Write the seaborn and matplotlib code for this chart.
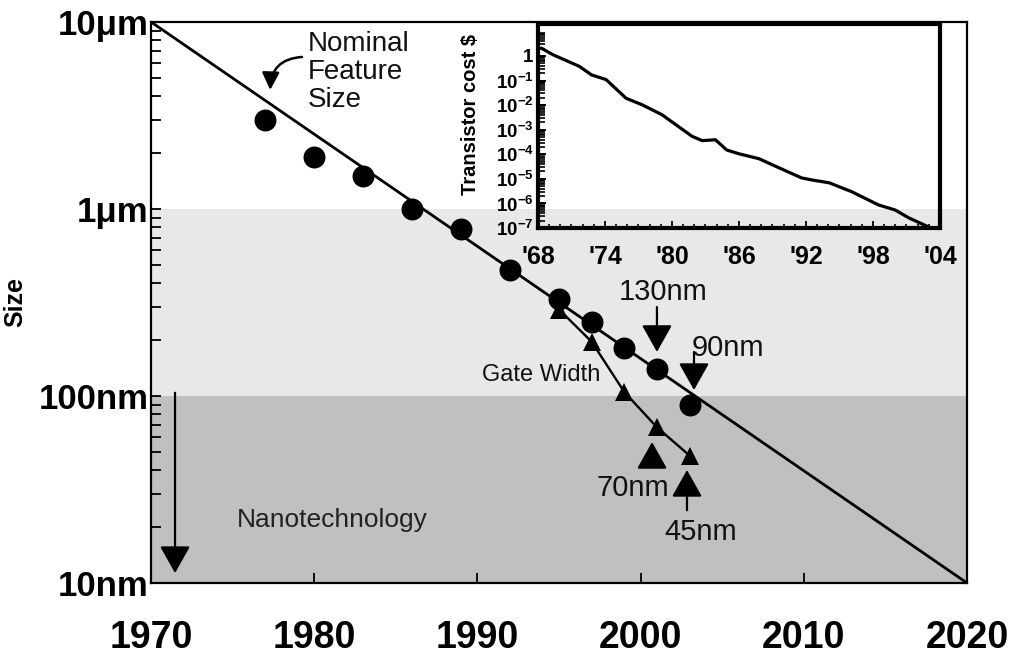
import matplotlib
matplotlib.use("Agg")
import matplotlib.pyplot as plt
import seaborn as sns
from matplotlib.ticker import FixedLocator, LogLocator, MultipleLocator, NullFormatter

# Nominal feature size (nm) by year
feature_years = [1977, 1980, 1983, 1986, 1989, 1992, 1995, 1997, 1999, 2001, 2003]
feature_nm = [3000, 1900, 1500, 1000, 780, 470, 330, 250, 180, 140, 90]

# Gate width (nm)
gate_years = [1995, 1997, 1999, 2001, 2003]
gate_nm = [290, 195, 105, 68, 48]

# Trend line end points
trend_years = [1970, 2020]
trend_nm = [10000, 10]

# Inset: transistor cost in $
cost_years = [1968.3, 1969.3, 1971.7, 1972.8, 1974.1, 1975.9, 1977.3, 1979.1,
              1981.8, 1982.7, 1983.9, 1984.9, 1986.0, 1987.8, 1989.6, 1991.6,
              1992.5, 1994.1, 1996.1, 1998.5, 2000.0, 2001.2, 2003.2]
cost_usd = [2.1, 1.15, 0.38, 0.17, 0.11, 0.019, 0.0105, 0.0041,
            5.4e-4, 3.6e-4, 3.9e-4, 1.5e-4, 1.05e-4, 6.6e-5, 2.8e-5, 1.1e-5,
            9.1e-6, 6.9e-6, 3.0e-6, 8.7e-7, 5.4e-7, 2.6e-7, 1.0e-7]

size_ticks = [10, 100, 1000, 10000]
size_labels = ["10nm", "100nm", "1\u03bcm", "10\u03bcm"]
year_ticks = [1970, 1980, 1990, 2000, 2010, 2020]
inset_year_ticks = [1968, 1974, 1980, 1986, 1992, 1998, 2004]
inset_year_labels = ["'68", "'74", "'80", "'86", "'92", "'98", "'04"]
cost_ticks = [1, 1e-1, 1e-2, 1e-3, 1e-4, 1e-5, 1e-6, 1e-7]
cost_labels = [r"$\mathbf{1}$"] + [r"$\mathbf{10^{-%d}}$" % k for k in range(1, 8)]

sns.set_style("ticks")
plt.rcParams["font.family"] = ["Liberation Sans", "DejaVu Sans"]
plt.rcParams["mathtext.fontset"] = "custom"
plt.rcParams["mathtext.rm"] = "Liberation Sans"
plt.rcParams["mathtext.bf"] = "Liberation Sans:bold"
plt.rcParams["text.color"] = "black"
plt.rcParams["axes.labelcolor"] = "black"
plt.rcParams["xtick.color"] = "black"
plt.rcParams["ytick.color"] = "black"

fig = plt.figure(figsize=(10.11, 6.6), dpi=100)
ax = fig.add_axes([0.1494, 0.1167, 0.8071, 0.85])
ax.set_yscale("log")
ax.set_xlim(1970, 2020)
ax.set_ylim(10, 10000)

# shaded regions
ax.axhspan(100, 1000, color="#e8e8e8", lw=0, zorder=0)
ax.axhspan(10, 100, color="#c0c0c0", lw=0, zorder=0)

sns.lineplot(x=trend_years, y=trend_nm, ax=ax, color="black", lw=2.0, zorder=3)
sns.lineplot(x=gate_years, y=gate_nm, ax=ax, color="black", lw=1.7, marker="^",
             markersize=13, markeredgewidth=0, zorder=3)
sns.scatterplot(x=feature_years, y=feature_nm, ax=ax, color="black", s=250,
                edgecolor="black", linewidth=0, zorder=4)

# axes styling
for sp in ax.spines.values():
    sp.set_linewidth(1.6)
    sp.set_color("black")
ax.yaxis.set_major_locator(FixedLocator(size_ticks))
ax.set_yticklabels(size_labels)
ax.yaxis.set_minor_locator(LogLocator(base=10, subs=range(2, 10), numticks=20))
ax.yaxis.set_minor_formatter(NullFormatter())
ax.set_xticks(year_ticks)
ax.tick_params(axis="y", which="both", direction="in", length=7, width=1.3, pad=2,
               labelsize=25)
ax.tick_params(axis="x", which="major", direction="in", length=7, width=1.3, pad=27,
               labelsize=27)
for t in ax.get_yticklabels():
    t.set_fontweight("bold")
for t in ax.get_xticklabels():
    t.set_fontweight("bold")
    t.set_family(["Liberation Sans Narrow", "Liberation Sans"])
ax.set_xlabel("")
ax.set_ylabel("Size", fontsize=18, fontweight="bold")
ax.yaxis.set_label_coords(-0.152, 0.5)

# text labels
ax.text(1979.6, 5400, "Nominal\nFeature\nSize", fontsize=20, ha="left", va="center",
        linespacing=1.12, color="#111111")
ax.annotate("", xy=(1977.3, 4330), xytext=(1979.25, 6500),
            arrowprops=dict(arrowstyle="-|>,head_width=0.35,head_length=0.7",
                            connectionstyle="arc3,rad=0.45", color="black", lw=1.8,
                            shrinkA=0, shrinkB=0, mutation_scale=15))
ax.text(1993.9, 129.5, "Gate Width", fontsize=17, ha="center", va="center", color="#111111")
ax.text(1975.27, 21.7, "Nanotechnology", fontsize=19, ha="left", va="center", color="#222222")

labels = ["130nm", "90nm", "70nm", "45nm"]
label_pos = [(2001.4, 360), (2005.35, 180), (1999.5, 32.2), (2003.7, 18.7)]
for txt, (lx, ly) in zip(labels, label_pos):
    ax.text(lx, ly, txt, fontsize=21, ha="center", va="center", color="#111111")

arrow_tails = [(2001.0, 299), (2003.27, 172), (2000.7, 42.3), (2002.84, 24.5), (1971.47, 104)]
arrow_tips = [(2001.0, 172), (2003.27, 107.6), (2000.7, 56.7), (2002.84, 40.2), (1971.47, 11.3)]
for tail, tip in zip(arrow_tails, arrow_tips):
    ax.annotate("", xy=tip, xytext=tail,
                arrowprops=dict(arrowstyle="-|>,head_width=0.45,head_length=0.8",
                                color="black", lw=1.6, shrinkA=0, shrinkB=0,
                                mutation_scale=21))

# inset: transistor cost
ins = fig.add_axes([0.5321, 0.6545, 0.3976, 0.3091])
ins.patch.set_alpha(0)
ins.set_yscale("log")
ins.set_xlim(1968, 2004)
ins.set_ylim(1e-7, 20)
sns.lineplot(x=cost_years, y=cost_usd, ax=ins, color="black", lw=2.3)
for sp in ins.spines.values():
    sp.set_linewidth(3)
    sp.set_color("black")
ins.set_xticks(inset_year_ticks)
ins.set_xticklabels(inset_year_labels)
ins.xaxis.set_minor_locator(MultipleLocator(1))
ins.yaxis.set_major_locator(FixedLocator(cost_ticks))
ins.set_yticklabels(cost_labels)
ins.yaxis.set_minor_locator(LogLocator(base=10, subs=range(2, 10), numticks=20))
ins.yaxis.set_minor_formatter(NullFormatter())
ins.tick_params(axis="x", which="major", direction="in", length=5, width=1.3, pad=12,
                labelsize=18)
ins.tick_params(axis="x", which="minor", direction="in", length=3, width=1.2)
ins.tick_params(axis="y", which="major", direction="in", length=6, width=1.4, pad=3,
                labelsize=13.5)
ins.tick_params(axis="y", which="minor", direction="in", length=5, width=1.2)
for t in ins.get_xticklabels():
    t.set_fontweight("bold")
ins.set_xlabel("")
ins.set_ylabel("Transistor cost $", fontsize=14.5, fontweight="bold", labelpad=1)
ins.yaxis.set_label_coords(-0.145, 0.555)

fig.savefig("out.png", dpi=100)
